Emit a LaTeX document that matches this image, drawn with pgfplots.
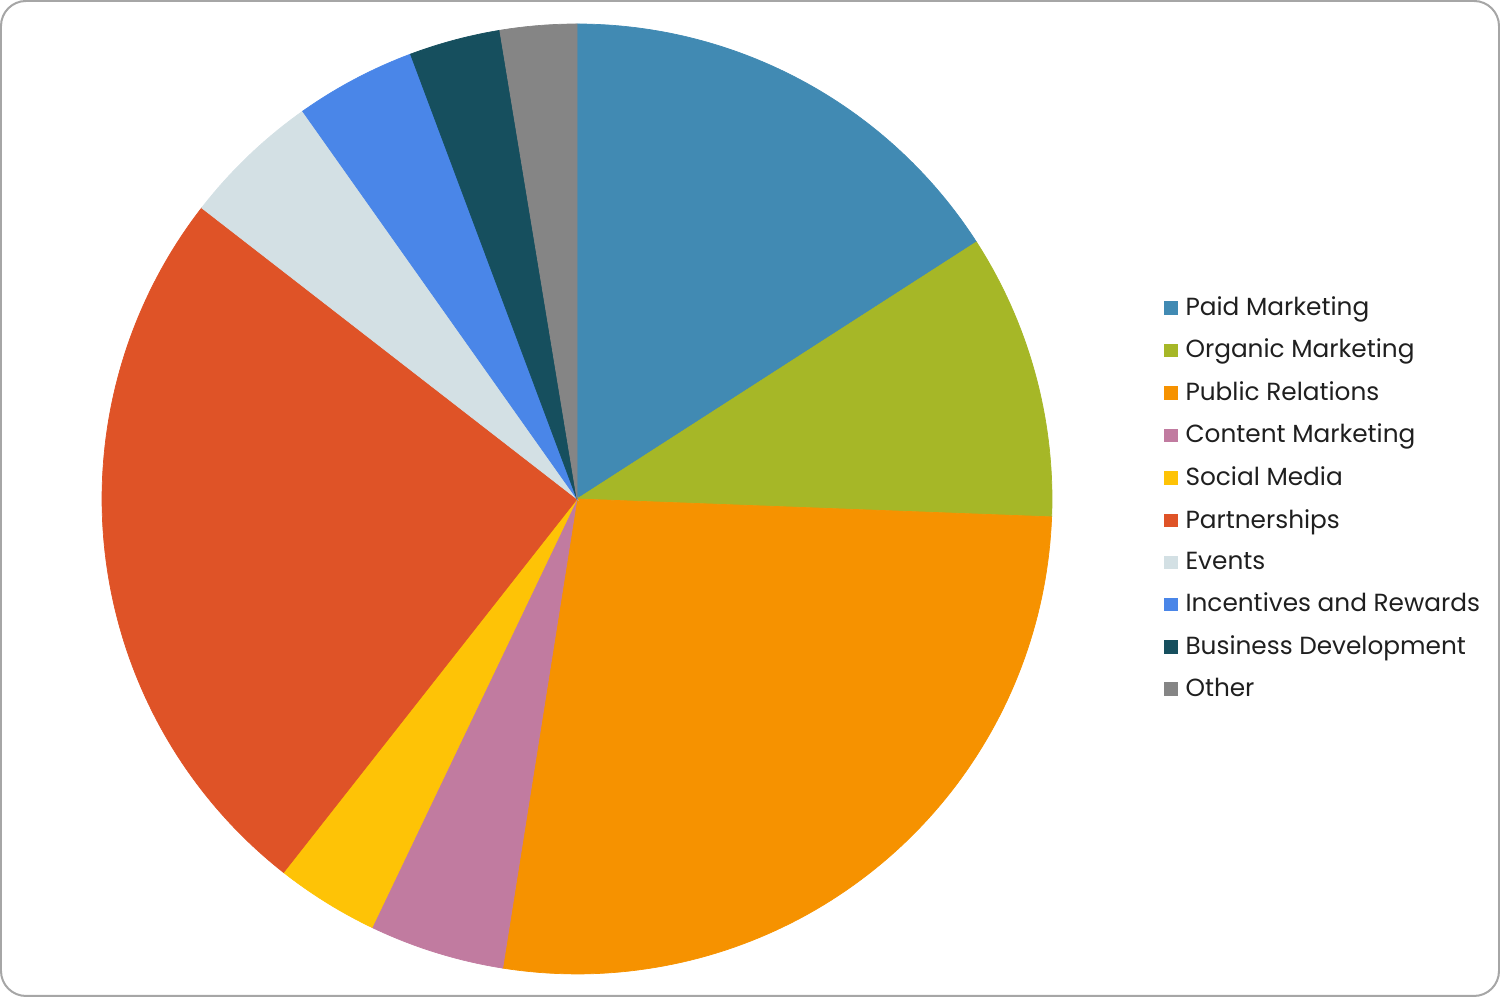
\documentclass[border=0pt]{standalone}
\usepackage{fontspec}
\setmainfont{Poppins}
\usepackage{pgfplots}
\pgfplotsset{compat=1.18}

\definecolor{cPaid}{HTML}{418AB3}
\definecolor{cOrganic}{HTML}{A6B727}
\definecolor{cPR}{HTML}{F69200}
\definecolor{cContent}{HTML}{C17BA0}
\definecolor{cSocial}{HTML}{FEC306}
\definecolor{cPartner}{HTML}{DF5327}
\definecolor{cEvents}{HTML}{D3E0E4}
\definecolor{cIncent}{HTML}{4A86E8}
\definecolor{cBizDev}{HTML}{164F5E}
\definecolor{cOther}{HTML}{858585}
\definecolor{frame}{HTML}{A6A6A6}

% shares in percent, clockwise from 12 o'clock:
% 15.9, 9.7, 26.9, 4.6, 3.5, 24.9, 4.7, 4.1, 3.1, 2.6
% each slice is drawn from its cumulative start:end (in percent)
\pgfplotsset{
  slice/.style={fill=#1, draw=#1, line width=0.2pt, samples=90},
}

\begin{document}
\begin{tikzpicture}
\useasboundingbox (0,0) rectangle (15cm,9.97cm);
\draw[frame, line width=0.2mm, rounded corners=0.25cm] (0.01cm,0.01cm) rectangle (14.99cm,9.96cm);
\begin{axis}[
    hide axis,
    x=4.75cm, y=4.75cm,
    xmin=-1, xmax=1, ymin=-1, ymax=1,
    clip=false,
    at={(5.77cm,4.98cm)}, anchor=origin,
    variable=\t,
    legend cell align=left,
    legend style={
      at={(axis cs:1.235,0)}, anchor=west,
      draw=none, fill=none,
      font=\fontsize{7.05}{8}\selectfont,
      text=black!88,
      row sep=1.25pt,
      inner xsep=0pt,
      nodes={inner xsep=0.8mm},
    },
    legend image code/.code={\fill[#1] (0cm,-0.55mm) rectangle (1.25mm,0.7mm);},
]
\addplot[slice=cPaid,    domain=0:15.9]    ({sin(3.6*t)},{cos(3.6*t)}) -- (0,0) -- cycle;
\addlegendentry{Paid Marketing}
\addplot[slice=cOrganic, domain=15.9:25.6] ({sin(3.6*t)},{cos(3.6*t)}) -- (0,0) -- cycle;
\addlegendentry{Organic Marketing}
\addplot[slice=cPR,      domain=25.6:52.5] ({sin(3.6*t)},{cos(3.6*t)}) -- (0,0) -- cycle;
\addlegendentry{Public Relations}
\addplot[slice=cContent, domain=52.5:57.1] ({sin(3.6*t)},{cos(3.6*t)}) -- (0,0) -- cycle;
\addlegendentry{Content Marketing}
\addplot[slice=cSocial,  domain=57.1:60.6] ({sin(3.6*t)},{cos(3.6*t)}) -- (0,0) -- cycle;
\addlegendentry{Social Media}
\addplot[slice=cPartner, domain=60.6:85.5] ({sin(3.6*t)},{cos(3.6*t)}) -- (0,0) -- cycle;
\addlegendentry{Partnerships}
\addplot[slice=cEvents,  domain=85.5:90.2] ({sin(3.6*t)},{cos(3.6*t)}) -- (0,0) -- cycle;
\addlegendentry{Events}
\addplot[slice=cIncent,  domain=90.2:94.3] ({sin(3.6*t)},{cos(3.6*t)}) -- (0,0) -- cycle;
\addlegendentry{Incentives and Rewards}
\addplot[slice=cBizDev,  domain=94.3:97.4] ({sin(3.6*t)},{cos(3.6*t)}) -- (0,0) -- cycle;
\addlegendentry{Business Development}
\addplot[slice=cOther,   domain=97.4:100]  ({sin(3.6*t)},{cos(3.6*t)}) -- (0,0) -- cycle;
\addlegendentry{Other}
\end{axis}
\end{tikzpicture}
\end{document}
